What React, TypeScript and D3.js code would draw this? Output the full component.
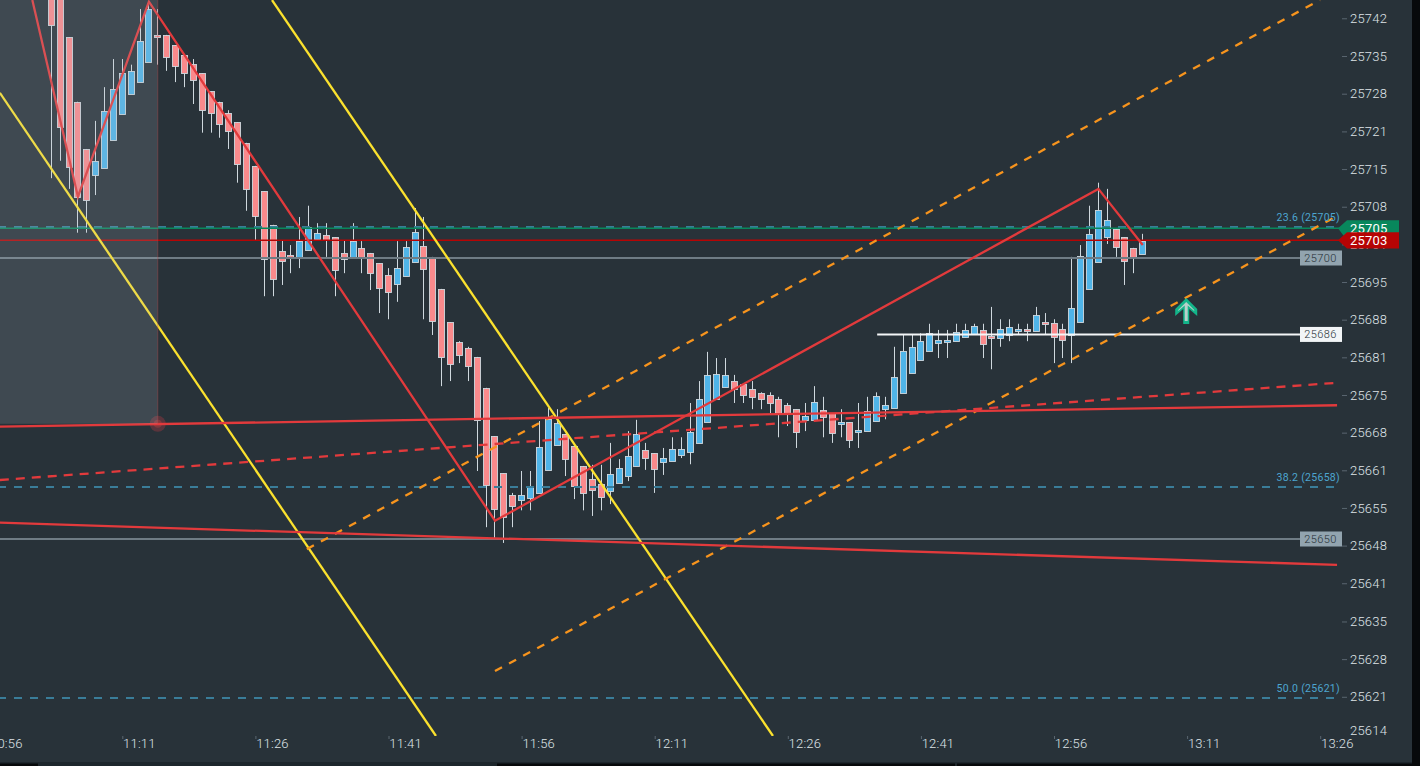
import React, { useEffect, useRef } from 'react';
import * as d3 from 'd3';

// one candle per minute, minute of the day of the first candle
const firstMinute = 663;

const opens = [
  25749.5, 25748, 25739.3, 25727.8, 25719.4, 25714.8, 25716.0, 25721.0, 25725.6, 25729.2, 25731.3, 25734.9,
  25739.7, 25739.7, 25737.9, 25736.1, 25734.5, 25732.9, 25729.7, 25727.8, 25725.8, 25724.2, 25720.5, 25716.4,
  25711.9, 25705.9, 25701.2, 25700.5, 25700.2, 25701.4, 25703.4, 25704.1, 25703.7, 25700.9, 25700.2, 25701.8,
  25700.9, 25699.1, 25697.0, 25695.4, 25696.8, 25699.3, 25702.1, 25700.2, 25694.5, 25688.6, 25685.0, 25684.0,
  25682.4, 25676.9, 25668.3, 25661.7, 25657.8, 25656.9, 25657.3, 25658.2, 25662.3, 25666.7, 25668.7, 25666.5,
  25663.0, 25660.7, 25659.8, 25658.5, 25660.0, 25661.2, 25663.0, 25665.8, 25665.3, 25663.7, 25663.9, 25664.9,
  25665.5, 25667.1, 25670.8, 25674.9, 25677.0, 25678.1, 25677.6, 25676.7, 25676.0, 25675.6, 25674.9, 25673.8,
  25673.1, 25671.2, 25671.2, 25672.9, 25672.4, 25670.5, 25670.8, 25669.0, 25669.2, 25671.0, 25673.1, 25673.3,
  25676.0, 25679.5, 25681.8, 25683.4, 25684.9, 25685.0, 25685.2, 25685.9, 25686.5, 25687.2, 25686.1, 25685.8,
  25686.3, 25687.0, 25687.4, 25687.0, 25688.6, 25688.4, 25687.4, 25686.3, 25688.6, 25694.5, 25699.3, 25703.7,
  25705.2, 25703.7, 25701.8, 25700.7,
];
const closes = [
  25741.5, 25723.3, 25716.2, 25710.9, 25710.3, 25717.3, 25726.2, 25730.1, 25732.9, 25733.3, 25738.6, 25744.3,
  25739.3, 25735.8, 25734.2, 25732.9, 25731.7, 25726.3, 25725.8, 25723.9, 25722.6, 25716.7, 25712.3, 25707.5,
  25699.8, 25696.3, 25699.5, 25700.2, 25703.0, 25705.5, 25704.5, 25703.2, 25697.9, 25699.8, 25703.0, 25700.0,
  25697.3, 25694.7, 25693.9, 25698.2, 25702.0, 25704.6, 25698.0, 25688.8, 25682.4, 25681.1, 25682.7, 25680.8,
  25671.2, 25659.6, 25655.3, 25653.9, 25655.9, 25657.8, 25659.2, 25666.4, 25671.3, 25670.6, 25664.2, 25659.4,
  25658.2, 25658.7, 25657.5, 25661.6, 25662.6, 25664.8, 25668.7, 25664.4, 25662.4, 25664.4, 25666.0, 25666.0,
  25669.0, 25674.9, 25679.2, 25679.4, 25679.2, 25676.7, 25675.6, 25675.3, 25674.9, 25674.2, 25672.4, 25672.4,
  25669.0, 25671.9, 25674.4, 25671.7, 25668.8, 25670.8, 25667.6, 25669.4, 25672.8, 25675.4, 25673.8, 25678.8,
  25683.4, 25684.2, 25685.2, 25686.6, 25685.4, 25685.4, 25686.8, 25687.2, 25687.9, 25684.7, 25685.8, 25687.4,
  25687.7, 25687.4, 25687.0, 25689.9, 25688.3, 25685.9, 25685.4, 25691.1, 25700.4, 25704.3, 25708.5, 25706.8,
  25702.0, 25699.5, 25700.0, 25703.0,
];
const highs = [
  25752, 25750, 25739.3, 25727.8, 25719.4, 25724.4, 25730.4, 25735.4, 25735.4, 25734.4, 25744.3, 25745.7,
  25744.3, 25739.7, 25737.9, 25736.1, 25735.4, 25732.9, 25729.7, 25727.8, 25726.3, 25724.2, 25720.5, 25716.4,
  25711.9, 25705.9, 25703.2, 25702.3, 25707.3, 25709.3, 25706.2, 25706.2, 25703.7, 25703.2, 25706.2, 25703.0,
  25700.9, 25699.1, 25698.2, 25703.0, 25703.0, 25708.9, 25707.3, 25700.2, 25694.5, 25688.6, 25685.2, 25684.2,
  25682.4, 25676.9, 25668.3, 25661.7, 25658.2, 25662.1, 25662.1, 25671.0, 25673.3, 25673.1, 25668.7, 25666.5,
  25663.0, 25663.2, 25663.2, 25667.1, 25664.2, 25669.2, 25671.2, 25667.1, 25665.3, 25666.2, 25668.1, 25668.1,
  25674.2, 25678.1, 25683.3, 25682.2, 25682.2, 25679.2, 25677.6, 25678.1, 25676.1, 25676.1, 25675.3, 25674.2,
  25673.1, 25674.2, 25677.2, 25675.3, 25672.4, 25673.1, 25670.8, 25674.2, 25675.3, 25676.1, 25675.3, 25684.2,
  25686.3, 25686.3, 25686.6, 25688.3, 25687.2, 25687.2, 25688.3, 25688.3, 25688.3, 25688.3, 25691.3, 25689.1,
  25689.1, 25688.3, 25688.3, 25691.3, 25690.2, 25689.1, 25688.3, 25700.2, 25702.3, 25709.3, 25713.4, 25712.3,
  25705.2, 25703.7, 25701.8, 25704.3,
];
const lows = [
  25714.2, 25717.3, 25712.3, 25704.5, 25704.5, 25711.2, 25716.0, 25721.0, 25725.6, 25729.2, 25731.3, 25734.9,
  25734.4, 25733.3, 25731.3, 25730.4, 25727.4, 25722.3, 25722.3, 25721.4, 25719.4, 25713.4, 25708.4, 25703.2,
  25693.2, 25693.2, 25695.2, 25697.3, 25698.2, 25701.4, 25703.2, 25700.2, 25693.2, 25697.3, 25700.2, 25697.3,
  25694.3, 25690.2, 25689.1, 25692.2, 25696.8, 25699.3, 25689.1, 25686.3, 25677.2, 25678.1, 25681.3, 25678.1,
  25662.1, 25652.1, 25650.2, 25649.3, 25652.1, 25655.1, 25655.1, 25658.2, 25662.3, 25666.7, 25661.2, 25657.1,
  25655.1, 25654.1, 25655.1, 25656.2, 25660.0, 25660.3, 25663.0, 25662.3, 25658.2, 25661.4, 25663.9, 25664.4,
  25663.3, 25667.1, 25670.8, 25674.9, 25677.0, 25674.2, 25674.2, 25673.1, 25673.1, 25672.4, 25668.1, 25670.1,
  25666.2, 25669.2, 25671.2, 25668.1, 25667.1, 25668.1, 25666.2, 25666.2, 25669.2, 25671.0, 25671.3, 25673.3,
  25676.0, 25679.5, 25681.8, 25683.4, 25682.2, 25682.2, 25685.2, 25685.9, 25686.5, 25682.2, 25680.2, 25684.2,
  25685.2, 25686.3, 25685.2, 25687.0, 25686.3, 25681.3, 25682.2, 25681.3, 25688.6, 25694.5, 25699.3, 25702.5,
  25700.2, 25695.2, 25697.3, 25700.7,
];

// right axis: the tick prices are not round, the platform truncates what it prints
const priceTicks = [
  25742.53, 25735.82, 25729.11, 25722.4, 25715.7, 25709.0, 25702.3, 25695.6, 25688.9, 25682.2, 25675.5, 25668.8,
  25662.1, 25655.4, 25648.7, 25642.0, 25635.2, 25628.5, 25621.8, 25615.8,
];
const priceLabels = [
  '25742', '25735', '25728', '25721', '25715', '25708', '25701', '25695', '25688', '25681', '25675', '25668',
  '25661', '25655', '25648', '25641', '25635', '25628', '25621', '25614',
];

const timeTicks = [656, 671, 686, 701, 716, 731, 746, 761, 776, 791, 806];
const timeLabels = ['10:56', '11:11', '11:26', '11:41', '11:56', '12:11', '12:26', '12:41', '12:56', '13:11', '13:26'];

// drawings
const zigzagMinutes = [660.86, 666, 674, 713, 781, 786];
const zigzagPrices = [25745.9, 25710.9, 25745.6, 25653.25, 25712.3, 25702.3];

const channelA = { minutes: [657.2, 706.35], prices: [25729.4, 25614.95] };
const channelB = { minutes: [687.87, 744.33], prices: [25745.9, 25614.95] };
const riseA = { minutes: [691.8, 805.97], prices: [25648.2, 25745.9] };
const riseB = { minutes: [713.0, 807.7], prices: [25626.5, 25707.3] };
const fanTop = { minutes: [657.2, 807.9], prices: [25670.0, 25673.8] };
const fanMid = { minutes: [657.2, 807.9], prices: [25660.5, 25677.8] };
const fanLow = { minutes: [657.2, 807.9], prices: [25652.9, 25645.4] };

const fibLevels = [25705.5, 25659.25, 25621.7];
const fibLabels = ['23.6 (25705)', '38.2 (25658)', '50.0 (25621)'];

const askPrice = 25705.3;
const bidPrice = 25703.15;
const greyLevels = [25700, 25650];
const whiteLevel = 25686.4;
const whiteLevelStart = 756.07;

const zoneEndMinute = 675;
const zonePrice = 25670.5;
const arrowMinute = 790.9;
const arrowPrice = 25692.9;

const BG = '#283239';
const PINK = '#fa8a8c';
const BLUE = '#4fb4e8';
const OUTLINE = '#cfd8de';
const RED = '#e23a3c';
const YELLOW = '#fbe12e';
const ORANGE = '#f7941d';
const FIB = '#3a7d99';
const GREY = '#6f7c85';
const FONT = 'Roboto, sans-serif';

const App: React.FC = () => {
  const ref = useRef<SVGSVGElement | null>(null);

  useEffect(() => {
    if (!ref.current) return;
    const svg = d3.select(ref.current);
    svg.selectAll('*').remove();

    const W = 1420;
    const H = 766;
    const plotRight = 1340;
    const plotBottom = 736;

    const x = d3.scaleLinear().domain([671, 686]).range([122.3, 255.4]);
    const y = d3.scaleLinear().domain([25650, 25700]).range([539, 258]);

    svg.append('rect').attr('width', W).attr('height', H).attr('fill', BG);

    // bottom strip and right edge of the window
    svg.append('rect').attr('y', 762).attr('width', 1412).attr('height', 4).attr('fill', '#1d262c');
    [[0, 38], [497, 955], [957, 1412]].forEach(([a, b]) => {
      svg.append('rect').attr('x', a).attr('y', 763.5).attr('width', b - a).attr('height', 2.5).attr('fill', '#07090b');
    });
    svg.append('rect').attr('x', 1412).attr('width', 8).attr('height', H).attr('fill', '#07090b');

    svg.append('clipPath').attr('id', 'plot').append('rect')
      .attr('width', plotRight).attr('height', plotBottom);

    const plot = svg.append('g').attr('clip-path', 'url(#plot)');

    // candles
    const candles = d3.range(opens.length).map(i => ({
      minute: firstMinute + i,
      open: opens[i],
      close: closes[i],
      high: highs[i],
      low: lows[i],
    }));
    const mid = (m: number) => Math.floor(x(m)) + 0.5;

    const candle = plot.append('g').selectAll('g').data(candles).join('g');
    candle.append('line')
      .attr('x1', d => mid(d.minute)).attr('x2', d => mid(d.minute))
      .attr('y1', d => y(d.high)).attr('y2', d => y(d.low))
      .attr('stroke', OUTLINE).attr('stroke-width', 1);
    candle.append('rect')
      .attr('x', d => mid(d.minute) - 3)
      .attr('width', 6)
      .attr('y', d => Math.round(y(Math.max(d.open, d.close))) + 0.5)
      .attr('height', d => Math.max(1, Math.round(Math.abs(y(d.open) - y(d.close)))))
      .attr('fill', d => (d.close >= d.open ? BLUE : PINK))
      .attr('stroke', OUTLINE).attr('stroke-width', 0.9);

    // horizontal levels
    const level = (price: number, color: string, width: number, from = -5, to = plotRight, dash?: string) => {
      plot.append('line')
        .attr('x1', from).attr('x2', to)
        .attr('y1', y(price)).attr('y2', y(price))
        .attr('stroke', color).attr('stroke-width', width)
        .attr('stroke-dasharray', dash ?? null);
    };
    fibLevels.forEach(p => level(p, FIB, 2, -2, plotRight, '8 8'));
    level(askPrice, '#08875c', 1.5);
    level(bidPrice, '#b60404', 1.5);
    greyLevels.forEach(p => level(p, GREY, 2, -5, 1300));
    level(whiteLevel, '#f4f6f8', 2, x(whiteLevelStart), 1300);

    // anchor circle of the shaded zone, under the lines
    plot.append('circle')
      .attr('cx', x(zoneEndMinute)).attr('cy', y(zonePrice)).attr('r', 8)
      .attr('fill', 'rgba(210,60,70,0.3)');
    plot.append('circle')
      .attr('cx', x(zoneEndMinute)).attr('cy', y(zonePrice)).attr('r', 4)
      .attr('fill', 'rgba(220,70,70,0.3)');

    // trend lines
    const trend = (minutes: number[], prices: number[], color: string, width: number, dash?: string) => {
      const path = d3.line<number>()
        .x(m => x(m))
        .y((_, i) => y(prices[i]));
      plot.append('path')
        .attr('d', path(minutes))
        .attr('fill', 'none')
        .attr('stroke', color).attr('stroke-width', width)
        .attr('stroke-dasharray', dash ?? null);
    };
    trend(channelA.minutes, channelA.prices, YELLOW, 2.3);
    trend(channelB.minutes, channelB.prices, YELLOW, 2.3);
    trend(riseA.minutes, riseA.prices, ORANGE, 2.3, '8 8');
    trend(riseB.minutes, riseB.prices, ORANGE, 2.3, '8 8');
    trend(fanMid.minutes, fanMid.prices, RED, 2.3, '9 7');
    trend(fanTop.minutes, fanTop.prices, RED, 2.3);
    trend(fanLow.minutes, fanLow.prices, RED, 2.3);
    trend(zigzagMinutes, zigzagPrices, RED, 2.3);

    // shaded zone on top of everything in the plot
    plot.append('rect')
      .attr('x', 0).attr('y', 0)
      .attr('width', x(zoneEndMinute))
      .attr('height', y(zonePrice))
      .attr('fill', 'rgba(180,190,200,0.17)');
    plot.append('line')
      .attr('x1', x(zoneEndMinute)).attr('x2', x(zoneEndMinute))
      .attr('y1', 0).attr('y2', y(zonePrice))
      .attr('stroke', 'rgba(190,70,70,0.4)').attr('stroke-width', 1);

    // buy arrow
    const arrow = plot.append('g')
      .attr('transform', `translate(${x(arrowMinute)},${y(arrowPrice)})`);
    arrow.append('path')
      .attr('d', 'M0,0 L11,11 L11,18 L3,11 L3,26 L-3,26 L-3,11 L-11,18 L-11,11 Z')
      .attr('fill', '#13b58a');
    arrow.append('path')
      .attr('d', 'M0,4 L8,12 L8,13 L1.5,7.5 L1.5,23 L-1.5,23 L-1.5,7.5 L-8,13 L-8,12 Z')
      .attr('fill', '#b9cfca');

    // fib captions
    fibLevels.forEach((p, i) => {
      svg.append('text')
        .attr('x', 1340).attr('y', y(p) - 6)
        .attr('text-anchor', 'end')
        .attr('font-family', FONT).attr('font-size', 10.5)
        .attr('letter-spacing', 0.3)
        .attr('fill', '#4da6d0')
        .text(fibLabels[i]);
    });

    // price axis
    const priceAxis = svg.append('g')
      .attr('transform', 'translate(1342,-0.7)')
      .call(
        d3.axisRight(y)
          .tickValues(priceTicks)
          .tickFormat((_, i) => priceLabels[i])
          .tickSize(5)
          .tickPadding(3)
      );
    priceAxis.select('.domain').remove();
    priceAxis.selectAll('.tick line').attr('stroke', '#5a6670');
    priceAxis.selectAll<SVGGElement, number>('.tick').filter((_, i) => i === priceTicks.length - 1)
      .select('line').remove();
    priceAxis.selectAll('.tick text')
      .attr('font-family', FONT).attr('font-size', 13).attr('font-weight', 300)
      .attr('letter-spacing', 0.2)
      .attr('fill', '#dfe4e8');

    // time axis
    const timeAxis = svg.append('g')
      .attr('transform', `translate(0,${plotBottom})`)
      .call(
        d3.axisBottom(x)
          .tickValues(timeTicks)
          .tickFormat((_, i) => timeLabels[i])
          .tickSize(3)
          .tickPadding(0)
      );
    timeAxis.select('.domain').remove();
    timeAxis.selectAll('.tick line').attr('stroke', '#5a6670');
    timeAxis.selectAll('.tick text')
      .attr('text-anchor', 'start')
      .attr('x', 0.3).attr('y', 0).attr('dy', 12)
      .attr('font-family', FONT).attr('font-size', 13).attr('font-weight', 300)
      .attr('letter-spacing', 0.2)
      .attr('fill', '#dfe4e8');

    // level tags next to the axis
    const tag = (price: number, text: string, fill: string) => {
      svg.append('rect')
        .attr('x', 1300).attr('y', y(price) - 7.5)
        .attr('width', 42).attr('height', 15)
        .attr('fill', fill);
      svg.append('text')
        .attr('x', 1320.5).attr('y', y(price) + 4)
        .attr('text-anchor', 'middle')
        .attr('font-family', FONT).attr('font-size', 11).attr('font-weight', 300)
        .attr('letter-spacing', 0.4)
        .attr('fill', '#263036')
        .text(text);
    };
    greyLevels.forEach(p => tag(p, String(p), '#92a4af'));
    tag(whiteLevel, '25686', '#f2f5f7');

    // last price flags
    const flag = (price: number, top: number, bottom: number, fill: string, text: string) => {
      const c = y(price);
      const yTop = y(top);
      const yBottom = y(bottom);
      svg.append('path')
        .attr('d', `M1338,${c} L1347,${yTop} L1399,${yTop} L1399,${yBottom} L1347,${yBottom} Z`)
        .attr('fill', fill);
      svg.append('text')
        .attr('x', 1350).attr('y', c + 5)
        .attr('font-family', FONT).attr('font-size', 13)
        .attr('letter-spacing', 0.2)
        .attr('fill', '#ffffff')
        .text(text);
    };
    flag(askPrice, 25706.7, 25703.15, '#08875c', '25705');
    flag(bidPrice, 25704.6, 25701.7, '#b60404', '25703');
  }, []);

  return (
    <svg
      ref={ref}
      width={1420}
      height={766}
      style={{ position: 'fixed', left: 0, top: 0, display: 'block' }}
    />
  );
};

export default App;
